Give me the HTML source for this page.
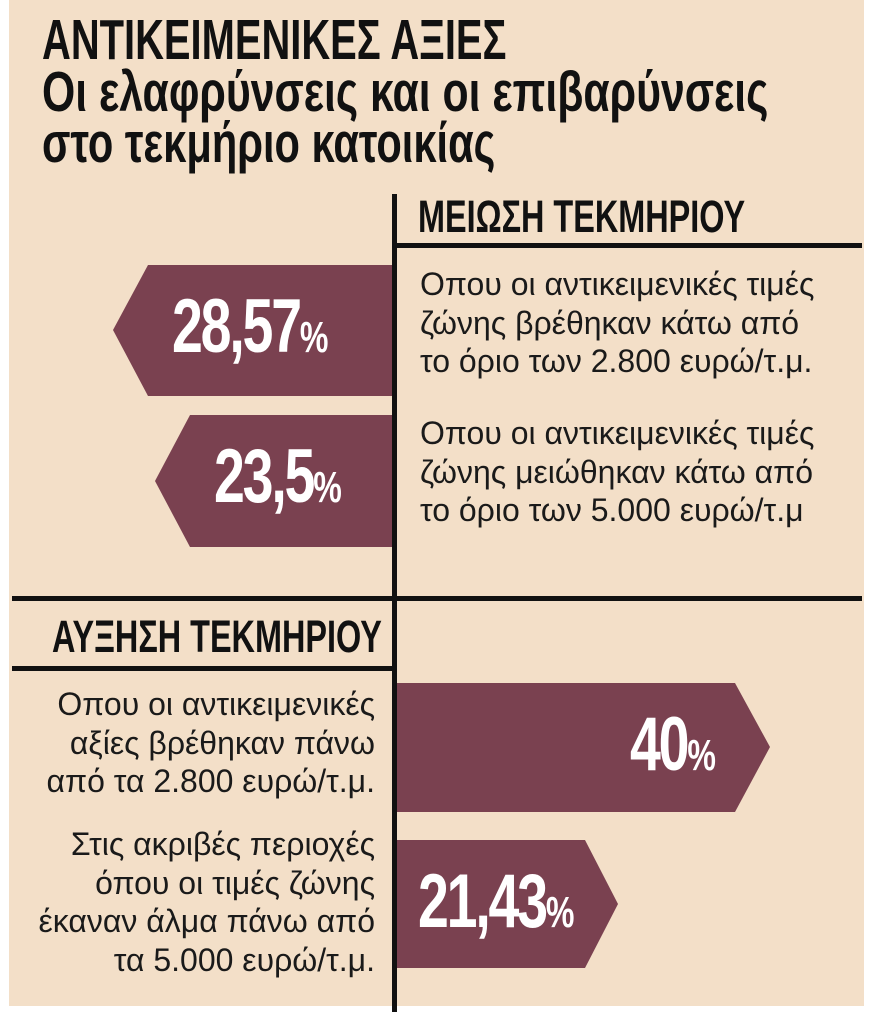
<!DOCTYPE html>
<html><head><meta charset="utf-8"><style>
html,body{margin:0;padding:0;background:#fff;}
body{width:877px;height:1024px;position:relative;overflow:hidden;}
#panel{position:absolute;left:9px;top:0;width:855px;height:1006px;background:#f3dfc8;}
.t{position:absolute;white-space:nowrap;font-family:"Liberation Sans Narrow","Liberation Sans",sans-serif;font-weight:bold;color:#111;transform-origin:0 0;}
.b{position:absolute;white-space:nowrap;font-family:"Liberation Sans Narrow","Liberation Sans",sans-serif;color:#1a1a1a;font-size:32px;line-height:38.5px;}
.ln{position:absolute;background:#111;}
.num{position:absolute;white-space:nowrap;font-family:"Liberation Sans Narrow","Liberation Sans",sans-serif;font-weight:bold;color:#fff;font-size:76px;letter-spacing:-3px;transform-origin:0 0;}
.num small{font-size:44px;letter-spacing:0;}
</style></head><body>
<div id="panel"></div>
<div class="t" style="left:42px;top:14px;font-size:57px;line-height:52px;transform:scaleX(0.70);">ΑΝΤΙΚΕΙΜΕΝΙΚΕΣ ΑΞΙΕΣ</div>
<div class="t" style="left:42px;top:66px;font-size:57px;line-height:52px;transform:scaleX(0.75);">Οι ελαφρύνσεις και οι επιβαρύνσεις</div>
<div class="t" style="left:42px;top:117px;font-size:57px;line-height:52px;transform:scaleX(0.73);">στο τεκμήριο κατοικίας</div>

<div class="ln" style="left:392px;top:194px;width:5px;height:818px;"></div>
<div class="t" style="left:418px;top:192px;font-size:45px;line-height:50px;transform:scaleX(0.72);">ΜΕΙΩΣΗ ΤΕΚΜΗΡΙΟΥ</div>
<div class="ln" style="left:395px;top:243px;width:467px;height:5px;"></div>

<svg style="position:absolute;left:0;top:0" width="877" height="1024">
<g fill="#7a4150">
<polygon points="148,265 392,265 392,396 148,396 113,330"/>
<polygon points="190,415 392,415 392,547 190,547 155,481"/>
<polygon points="397,683 735,683 770,747 735,812 397,812"/>
<polygon points="397,840 585,840 618,904 585,968 397,968"/>
</g></svg>

<div class="num" style="left:172px;top:283px;transform:scaleX(0.73);">28,57<small>%</small></div>
<div class="num" style="left:214px;top:433px;transform:scaleX(0.73);">23,5<small>%</small></div>
<div class="num" style="left:630px;top:701px;transform:scaleX(0.73);">40<small>%</small></div>
<div class="num" style="left:418px;top:858px;transform:scaleX(0.73);">21,43<small>%</small></div>

<div class="b" style="left:420px;top:265px;">Οπου οι αντικειμενικές τιμές<br>ζώνης βρέθηκαν κάτω από<br>το όριο των 2.800 ευρώ/τ.μ.</div>
<div class="b" style="left:420px;top:414px;">Οπου οι αντικειμενικές τιμές<br>ζώνης μειώθηκαν κάτω από<br>το όριο των 5.000 ευρώ/τ.μ</div>

<div class="ln" style="left:12px;top:596px;width:850px;height:5px;"></div>
<div class="t" style="left:52px;top:612px;font-size:45px;line-height:50px;transform:scaleX(0.72);">ΑΥΞΗΣΗ ΤΕΚΜΗΡΙΟΥ</div>
<div class="ln" style="left:12px;top:666px;width:383px;height:5px;"></div>

<div class="b" style="right:502px;top:685px;text-align:right;">Οπου οι αντικειμενικές<br>αξίες βρέθηκαν πάνω<br>από τα 2.800 ευρώ/τ.μ.</div>
<div class="b" style="right:502px;top:825px;text-align:right;">Στις ακριβές περιοχές<br>όπου οι τιμές ζώνης<br>έκαναν άλμα πάνω από<br>τα 5.000 ευρώ/τ.μ.</div>
</body></html>
